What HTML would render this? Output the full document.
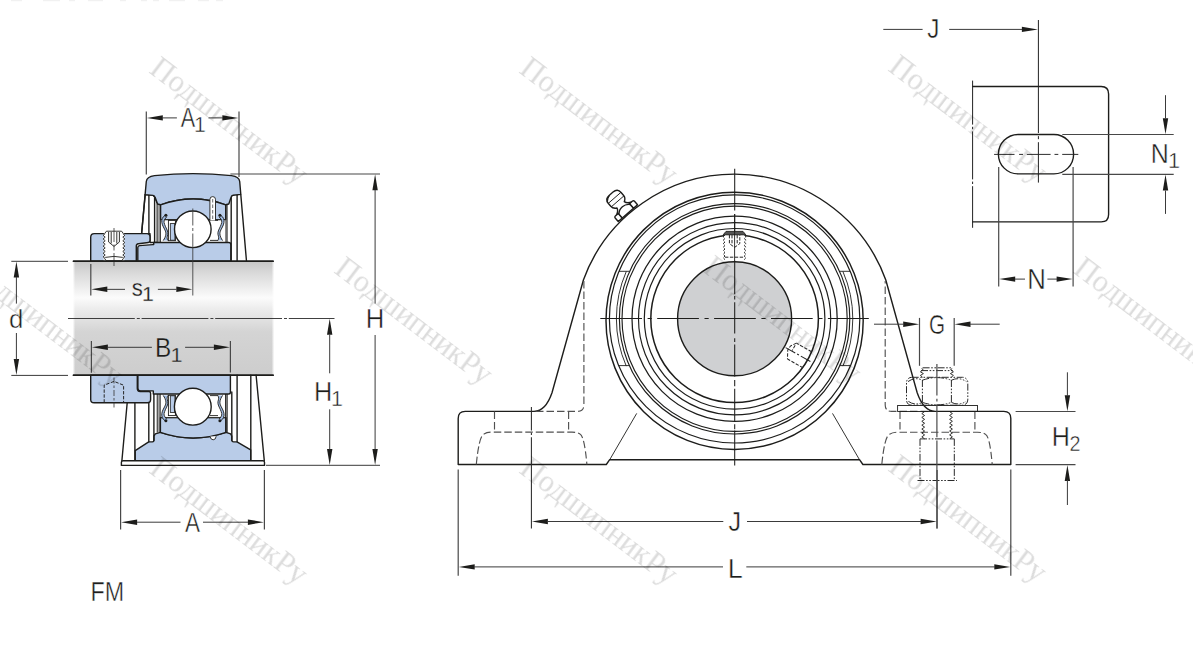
<!DOCTYPE html>
<html lang="ru">
<head>
<meta charset="utf-8">
<title>FM</title>
<style>
html,body{margin:0;padding:0;background:#fff;}
body{width:1193px;height:651px;overflow:hidden;font-family:"Liberation Sans",sans-serif;}
svg{display:block;}
.o{fill:none;stroke:#1d1d1b;stroke-width:1.4;stroke-linecap:round;stroke-linejoin:round;}
.ob{fill:#b9cce8;stroke:#1d1d1b;stroke-width:1.4;stroke-linejoin:round;}
.ow{fill:#fff;stroke:#1d1d1b;stroke-width:1.4;stroke-linejoin:round;}
.t{fill:none;stroke:#1d1d1b;stroke-width:0.9;stroke-linecap:butt;}
.tw{fill:#fff;stroke:#1d1d1b;stroke-width:0.9;}
.dm{fill:none;stroke:#3a3a3a;stroke-width:1;}
.ex{fill:none;stroke:#484848;stroke-width:1.2;}
.hd{fill:none;stroke:#505050;stroke-width:1.15;stroke-dasharray:7.5 3;}
.hs{fill:none;stroke:#262626;stroke-width:1;stroke-dasharray:3.4 1.5;}
.cl{fill:none;stroke:#2a2a2a;stroke-width:0.85;stroke-dasharray:17 2 2 2;}
.ph{fill:none;stroke:#2a2a2a;stroke-width:1;stroke-dasharray:7 1.6 1.6 1.6 1.6 1.6;}
.ah{fill:#1d1d1b;stroke:none;}
.lb{font-family:"Liberation Sans",sans-serif;fill:#1d1d1b;stroke:#fff;stroke-width:0.45;}
.lg{font-family:"Liberation Sans",sans-serif;fill:#1d1d1b;stroke:#d9d9d9;stroke-width:0.3;}
.wm{font-family:"Liberation Serif",serif;fill:#000;}
</style>
</head>
<body>
<svg width="1193" height="651" viewBox="0 0 1193 651">
<defs>
<linearGradient id="shaft" x1="0" y1="0" x2="0" y2="1">
<stop offset="0" stop-color="#c6c6c6"/>
<stop offset="0.10" stop-color="#d9d9d9"/>
<stop offset="0.32" stop-color="#fbfbfb"/>
<stop offset="0.42" stop-color="#ececec"/>
<stop offset="0.62" stop-color="#d4d4d4"/>
<stop offset="1" stop-color="#cdcdcd"/>
</linearGradient>
<linearGradient id="fadeL" x1="0" y1="0" x2="1" y2="0">
<stop offset="0" stop-color="#fff" stop-opacity="0.9"/>
<stop offset="1" stop-color="#fff" stop-opacity="0"/>
</linearGradient>
<linearGradient id="fadeR" x1="1" y1="0" x2="0" y2="0">
<stop offset="0" stop-color="#fff" stop-opacity="0.9"/>
<stop offset="1" stop-color="#fff" stop-opacity="0"/>
</linearGradient>
</defs>
<rect x="0" y="0" width="1193" height="651" fill="#ffffff"/>
<g id="leftview">
<rect x="73.4" y="261.3" width="200.1" height="114" fill="url(#shaft)"/>
<rect x="73.4" y="261.3" width="1.6" height="114" fill="url(#fadeL)"/>
<rect x="271.9" y="261.3" width="1.6" height="114" fill="url(#fadeR)"/>
<path class="ow" d="M145.2,194.6 L141.6,233.6 L150,233.6 L150,242.5 L161,242.5 L161,204.7 L157.5,204 L155,197.5 L153,195.3 Z" stroke="none"/>
<path d="M240.8,194.6 L246.5,261.3 L231,261.3 L231,242.5 L225.5,242.5 L225.5,204.7 L228.5,204 L231,197.5 L233,195.3 Z" fill="#fff"/>
<rect x="157" y="204.3" width="3.4" height="38" fill="#a6a6a6"/>
<rect x="225.4" y="204.8" width="1.7" height="37.6" fill="#9a9a9a"/>
<line class="o" x1="148.9" y1="195.2" x2="148.9" y2="233.6"/>
<line class="o" x1="154.6" y1="198" x2="154.6" y2="242.5"/>
<line class="t" x1="157" y1="204" x2="157" y2="242.5"/>
<line class="t" x1="160.4" y1="204.7" x2="160.4" y2="242.5"/>
<line class="o" x1="145.1" y1="194.6" x2="141.6" y2="233.6"/>
<line class="t" x1="225.4" y1="204.7" x2="225.4" y2="242.5"/>
<line class="t" x1="227.1" y1="204.7" x2="227.1" y2="242.5"/>
<line class="o" x1="231.2" y1="197" x2="231.2" y2="261.3"/>
<line class="o" x1="237.1" y1="195.2" x2="237.1" y2="261.3"/>
<line class="o" x1="240.8" y1="194.6" x2="246.5" y2="261.3"/>
<path class="ob" d="M145.1,194.6 L146.3,181.5 Q146.8,176.6 154.5,175.6 Q193,171.6 231.5,175.6 Q239.2,176.6 239.7,181.5 L240.8,194.4 L233.2,195.3 Q231.6,195.6 231,197.5 L228.8,204 L225.7,204.8 Q193,193.2 160.6,204.8 L157.6,204 L155.2,197.6 Q154.6,195.7 153,195.4 Z"/>
<path class="ob" d="M160.6,204.8 Q193,193.2 225.7,204.8 L225.7,219.6 L160.6,219.6 Z"/>
<rect x="160.9" y="219.8" width="64.5" height="22.4" fill="#fff"/>
<line class="t" x1="160.6" y1="219.8" x2="225.7" y2="219.8"/>
<path class="ob" d="M137.8,261.3 L137.8,247.6 Q137.8,245.8 139.6,245.6 L152.8,244.6 L153.7,244.6 L153.7,242.5 L228.8,242.5 Q230.8,242.5 230.8,244.5 L230.8,261.3 Z"/>
<path class="ob" d="M90.7,261.3 L90.7,237.2 Q90.7,233.6 94.3,233.6 L146.8,233.6 Q150,233.6 150,236.8 L150,240.6 Q150,242.3 148.4,242.5 L138.4,243.7 Q136.3,244 136.3,246 L136.3,261.3 Z"/>
<rect class="tw" x="168.4" y="220.4" width="7" height="20.3"/>
<rect x="170.3" y="223.6" width="4.6" height="16.6" fill="#b9cce8" stroke="#1d1d1b" stroke-width="0.8"/>
<line class="t" x1="210" y1="220.4" x2="218" y2="220.4"/>
<line class="t" x1="210" y1="240.4" x2="218" y2="240.4"/>
<path class="tw" d="M209.9,220.6 L209.9,199.4 Q209.9,196.6 212.7,196.6 Q215.5,196.6 215.5,199.4 L215.5,220.6"/>
<line x1="212.7" y1="199" x2="212.7" y2="220" stroke="#444" stroke-width="0.8" stroke-dasharray="3.5 2"/>
<circle class="ow" cx="192.8" cy="229.3" r="18.3"/>
<polygon points="165.6,214.8 163,216.6 161.5,220.4 162.2,224.8 164.6,229.2 166.3,233 165.2,237.4 163.2,240.6 168,240.6 166.8,238 168,234.3 167.7,231.1 165.5,226.7 163.8,222.3 164.4,219.4 166.7,216.8" fill="#9db8df" stroke="none"/><path class="t" stroke-width="1.25" d="M165.6,214.8 Q163,216.6 162.25,218.5 Q161.5,220.4 161.85,222.6 Q162.2,224.8 163.4,227 Q164.6,229.2 165.45,231.1 Q166.3,233 165.75,235.2 Q165.2,237.4 164.2,239 L163.2,240.6"/><path class="t" stroke-width="1.15" d="M166.7,216.8 Q164.4,219.4 164.1,220.85 Q163.8,222.3 164.65,224.5 Q165.5,226.7 166.6,228.9 Q167.7,231.1 167.85,232.7 Q168,234.3 167.4,236.15 Q166.8,238 167.4,239.3 L168,240.6"/><circle cx="165.9" cy="215.3" r="1.5" fill="#1d1d1b"/>
<polygon points="220.2,214.8 222.8,216.6 224.3,220.4 223.6,224.8 221.2,229.2 219.5,233 220.6,237.4 222.6,240.6 217.8,240.6 219,238 217.8,234.3 218.1,231.1 220.3,226.7 222,222.3 221.4,219.4 219.1,216.8" fill="#9db8df" stroke="none"/><path class="t" stroke-width="1.25" d="M220.2,214.8 Q222.8,216.6 223.55,218.5 Q224.3,220.4 223.95,222.6 Q223.6,224.8 222.4,227 Q221.2,229.2 220.35,231.1 Q219.5,233 220.05,235.2 Q220.6,237.4 221.6,239 L222.6,240.6"/><path class="t" stroke-width="1.15" d="M219.1,216.8 Q221.4,219.4 221.7,220.85 Q222,222.3 221.15,224.5 Q220.3,226.7 219.2,228.9 Q218.1,231.1 217.95,232.7 Q217.8,234.3 218.4,236.15 Q219,238 218.4,239.3 L217.8,240.6"/><circle cx="219.9" cy="215.3" r="1.5" fill="#1d1d1b"/>
<path d="M103.6,260.8 L103.6,234 L105.6,231.2 L122.4,231.2 L124.4,234 L124.4,260.8 Z" fill="#fff"/>
<polyline class="t" stroke-width="1.05" points="105.2,233.6 103.1,235.39 105.2,237.17 103.1,238.96 105.2,240.74 103.1,242.53 105.2,244.31 103.1,246.1 105.2,247.89 103.1,249.67 105.2,251.46 103.1,253.24 105.2,255.03 103.1,256.81 105.2,258.6"/>
<polyline class="t" stroke-width="1.05" points="122.8,233.6 124.9,235.39 122.8,237.17 124.9,238.96 122.8,240.74 124.9,242.53 122.8,244.31 124.9,246.1 122.8,247.89 124.9,249.67 122.8,251.46 124.9,253.24 122.8,255.03 124.9,256.81 122.8,258.6"/>
<path class="t" d="M104.6,233.6 L106.4,231.2 L121.6,231.2 L123.4,233.6"/>
<path class="t" d="M104.6,258.6 L106.4,260.8 L121.6,260.8 L123.4,258.6 M105.2,257.4 Q114,255.4 122.8,257.4"/>
<path class="t" d="M108.6,232 L108.6,242 L114,246.4 L119.4,242 L119.4,232 M111.2,232 L111.2,243.4 M116.8,232 L116.8,243.4" stroke-width="0.7"/>
<line x1="114" y1="228" x2="114" y2="266" stroke="#333" stroke-width="0.8" stroke-dasharray="14 2.5 6 2.5"/>
<line class="o" x1="73.4" y1="261.3" x2="273.2" y2="261.3"/>
<line class="o" x1="73.4" y1="375.3" x2="273.2" y2="375.3"/>
<path d="M127.2,402.8 L121.8,460.7 L264.4,460.7 L256.2,375.3 L230.4,375.3 L230.4,402.8 Z" fill="#fff"/>
<rect x="157.2" y="394" width="3" height="38.4" fill="#a6a6a6"/>
<rect x="225.5" y="394" width="1.7" height="38.4" fill="#9a9a9a"/>
<path class="ob" d="M135.2,460.7 L135.2,450.6 L148.7,441.9 L152.4,441.9 Q153.9,441.7 153.9,440.2 L153.9,436 L155.3,433.8 L160.4,432.3 Q193,443.6 226,432.3 L230.6,433.8 L231.8,436 L231.8,440.2 Q231.9,441.8 233.6,441.9 L237,441.9 L250.7,449.9 L250.7,460.7 Z"/>
<path class="ob" d="M160.4,417.6 L160.4,432.3 Q193,443.6 226,432.3 L226,417.6 Z"/>
<rect x="160.7" y="394.3" width="65" height="23.2" fill="#fff"/>
<line class="t" x1="160.4" y1="417.6" x2="226" y2="417.6"/>
<path class="tw" d="M210.2,436.6 Q210.6,439.8 213.2,439.8 Q215.8,439.8 216.2,436.2"/>
<line class="o" x1="127.2" y1="402.8" x2="121.9" y2="460.7"/>
<line class="o" x1="134.9" y1="402.8" x2="134.9" y2="460.7"/>
<line class="o" x1="148.8" y1="402.8" x2="148.8" y2="441.8"/>
<line class="o" x1="153.9" y1="394" x2="153.9" y2="440.6"/>
<line class="t" x1="157.2" y1="394" x2="157.2" y2="432.6"/>
<line class="t" x1="160.2" y1="394" x2="160.2" y2="432.3"/>
<line class="t" x1="225.5" y1="394" x2="225.5" y2="432.3"/>
<line class="t" x1="227.2" y1="394" x2="227.2" y2="432.6"/>
<line class="o" x1="231.8" y1="392" x2="231.8" y2="440.4"/>
<line class="o" x1="237.1" y1="375.3" x2="237.1" y2="441.8"/>
<line class="o" x1="250.8" y1="375.3" x2="250.8" y2="460.7"/>
<line class="o" x1="256.1" y1="375.3" x2="264.3" y2="460.7"/>
<path class="ob" d="M137.9,375.3 L137.9,388.2 Q137.9,390.9 140.6,390.9 L153.3,390.9 L153.3,394 L228.6,394 Q230.4,394 230.4,392.2 L230.4,375.3 Z"/>
<path class="ob" d="M90.7,375.3 L90.7,399.4 Q90.7,402.8 94.1,402.8 L147.4,402.8 Q150.6,402.8 150.6,399.6 L150.6,393.2 Q150.6,391.5 148.9,391.5 L140.2,391.5 Q137.3,391.5 137.3,388.6 L137.3,375.3 Z"/>
<path class="hs" stroke-width="1.1" stroke-dasharray="4.6 1.8" d="M104.2,402.6 L104.2,385.2 L114,381.4 L123.6,385.2 L123.6,402.6"/>
<line x1="114" y1="377.5" x2="114" y2="407.5" stroke="#333" stroke-width="0.8" stroke-dasharray="6 2 2.5 2"/>
<rect class="tw" x="168.4" y="395.3" width="7" height="20.3"/>
<rect x="170.3" y="395.8" width="4.6" height="16.6" fill="#b9cce8" stroke="#1d1d1b" stroke-width="0.8"/>
<line class="t" x1="210" y1="395.6" x2="218" y2="395.6"/>
<line class="t" x1="210" y1="415.6" x2="218" y2="415.6"/>
<circle class="ow" cx="192.8" cy="406.7" r="18.4"/>
<polygon points="165.6,421.2 163,419.4 161.5,415.6 162.2,411.2 164.6,406.8 166.3,403 165.2,398.6 163.2,395.4 168,395.4 166.8,398 168,401.7 167.7,404.9 165.5,409.3 163.8,413.7 164.4,416.6 166.7,419.2" fill="#9db8df" stroke="none"/><path class="t" stroke-width="1.25" d="M165.6,421.2 Q163,419.4 162.25,417.5 Q161.5,415.6 161.85,413.4 Q162.2,411.2 163.4,409 Q164.6,406.8 165.45,404.9 Q166.3,403 165.75,400.8 Q165.2,398.6 164.2,397 L163.2,395.4"/><path class="t" stroke-width="1.15" d="M166.7,419.2 Q164.4,416.6 164.1,415.15 Q163.8,413.7 164.65,411.5 Q165.5,409.3 166.6,407.1 Q167.7,404.9 167.85,403.3 Q168,401.7 167.4,399.85 Q166.8,398 167.4,396.7 L168,395.4"/><circle cx="165.9" cy="420.7" r="1.5" fill="#1d1d1b"/>
<polygon points="220.2,421.2 222.8,419.4 224.3,415.6 223.6,411.2 221.2,406.8 219.5,403 220.6,398.6 222.6,395.4 217.8,395.4 219,398 217.8,401.7 218.1,404.9 220.3,409.3 222,413.7 221.4,416.6 219.1,419.2" fill="#9db8df" stroke="none"/><path class="t" stroke-width="1.25" d="M220.2,421.2 Q222.8,419.4 223.55,417.5 Q224.3,415.6 223.95,413.4 Q223.6,411.2 222.4,409 Q221.2,406.8 220.35,404.9 Q219.5,403 220.05,400.8 Q220.6,398.6 221.6,397 L222.6,395.4"/><path class="t" stroke-width="1.15" d="M219.1,419.2 Q221.4,416.6 221.7,415.15 Q222,413.7 221.15,411.5 Q220.3,409.3 219.2,407.1 Q218.1,404.9 217.95,403.3 Q217.8,401.7 218.4,399.85 Q219,398 218.4,396.7 L217.8,395.4"/><circle cx="219.9" cy="420.7" r="1.5" fill="#1d1d1b"/>
<path class="ow" d="M121.4,462.2 Q121.4,460.7 123,460.7 L263,460.7 Q264.5,460.7 264.5,462.2 L264.5,465.4 L121.4,465.4 Z"/>
<line class="o" x1="73.4" y1="375.3" x2="273.2" y2="375.3"/>
<line class="o" x1="73.4" y1="261.3" x2="273.2" y2="261.3"/>
<line x1="68" y1="318.5" x2="334.5" y2="318.5" stroke="#2a2a2a" stroke-width="0.9" stroke-dasharray="66.8 2 3 1.8"/>
<line x1="192.8" y1="208.5" x2="192.8" y2="295.5" stroke="#3a3a3a" stroke-width="0.85" stroke-dasharray="17 2.5 3 2.5 70"/>
<line class="ex" x1="146.3" y1="111.5" x2="146.3" y2="174.6"/>
<line class="ex" x1="239" y1="111.5" x2="239" y2="177"/>
<polygon class="ah" points="146.8,117.9 162.8,115.2 162.8,120.6"/>
<polygon class="ah" points="238.4,117.9 222.4,115.2 222.4,120.6"/>
<line class="dm" x1="162" y1="117.9" x2="176.9" y2="117.9"/>
<line class="dm" x1="208.4" y1="117.9" x2="223" y2="117.9"/>
<text class="lb" transform="translate(180.65 126.8) scale(0.7689 1)" font-size="28.07">A</text>
<text class="lb" transform="translate(194.1 131.9) scale(1.0017 1)" font-size="21.24">1</text>
<line class="ex" x1="230.4" y1="174" x2="380" y2="174"/>
<line class="dm" x1="266" y1="465.3" x2="380" y2="465.3"/>
<polygon class="ah" points="375.1,174.3 372.4,190.3 377.8,190.3"/>
<polygon class="ah" points="375.1,465 372.4,449 377.8,449"/>
<line class="dm" x1="375.1" y1="190" x2="375.1" y2="303.6"/>
<line class="dm" x1="375.1" y1="335" x2="375.1" y2="449.5"/>
<text class="lb" transform="translate(365.78 327.9) scale(0.9209 1)" font-size="27.85">H</text>
<polygon class="ah" points="329.7,318.8 327,334.8 332.4,334.8"/>
<polygon class="ah" points="329.7,465 327,449 332.4,449"/>
<line class="dm" x1="329.7" y1="334.5" x2="329.7" y2="373.3"/>
<line class="dm" x1="329.7" y1="409.3" x2="329.7" y2="449.5"/>
<text class="lb" transform="translate(313.91 400.75) scale(0.9080 1)" font-size="27.85">H</text>
<text class="lb" transform="translate(330.89 405.8) scale(0.9989 1)" font-size="21.53">1</text>
<line class="dm" x1="11.3" y1="261.3" x2="68" y2="261.3"/>
<line class="dm" x1="11.3" y1="375.4" x2="68" y2="375.4"/>
<polygon class="ah" points="16.4,261.6 13.7,277.6 19.1,277.6"/>
<polygon class="ah" points="16.4,375.1 13.7,359.1 19.1,359.1"/>
<line class="dm" x1="16.4" y1="277" x2="16.4" y2="303.6"/>
<line class="dm" x1="16.4" y1="333" x2="16.4" y2="359.5"/>
<text class="lb" transform="translate(9.1 327.54) scale(0.9972 1)" font-size="25.85">d</text>
<line class="ex" x1="90.8" y1="264" x2="90.8" y2="295.5"/>
<polygon class="ah" points="91.3,289.3 107.3,286.6 107.3,292"/>
<polygon class="ah" points="192.3,289.3 176.3,286.6 176.3,292"/>
<line class="dm" x1="107" y1="289.35" x2="125" y2="289.35"/>
<line class="dm" x1="157.9" y1="289.35" x2="176.5" y2="289.35"/>
<text class="lg" transform="translate(131.64 295.71) scale(0.9059 1)" font-size="24.47">s</text>
<text class="lg" transform="translate(142.05 300.6) scale(1.0121 1)" font-size="21.02">1</text>
<line class="ex" x1="91.4" y1="341" x2="91.4" y2="372.7"/>
<line class="ex" x1="230.4" y1="341" x2="230.4" y2="372.5"/>
<polygon class="ah" points="91.9,347.3 107.9,344.6 107.9,350"/>
<polygon class="ah" points="229.9,347.3 213.9,344.6 213.9,350"/>
<line class="dm" x1="107.5" y1="347.3" x2="151.9" y2="347.3"/>
<line class="dm" x1="185.1" y1="347.3" x2="214" y2="347.3"/>
<text class="lg" transform="translate(155.04 356.75) scale(0.8928 1)" font-size="27.35">B</text>
<text class="lg" transform="translate(170.62 361.65) scale(1.0377 1)" font-size="20.95">1</text>
<line class="ex" x1="120.6" y1="470" x2="120.6" y2="529.6"/>
<line class="ex" x1="264.4" y1="470" x2="264.4" y2="529.6"/>
<polygon class="ah" points="121.1,522.2 137.1,519.5 137.1,524.9"/>
<polygon class="ah" points="263.9,522.2 247.9,519.5 247.9,524.9"/>
<line class="dm" x1="137" y1="522.2" x2="180.5" y2="522.2"/>
<line class="dm" x1="203" y1="522.2" x2="248" y2="522.2"/>
<text class="lb" transform="translate(184.94 531.9) scale(0.7889 1)" font-size="28.51">A</text>
<text class="lb" transform="translate(90.48 601) scale(0.8396 1)" font-size="27.78">FM</text>
</g>
<g id="frontview">
<circle cx="734.6" cy="318.8" r="57" fill="#cfd0d2" stroke="#1d1d1b" stroke-width="1.4"/>
<circle cx="734.6" cy="320.8" r="128.6" fill="none" stroke="#1d1d1b" stroke-width="1.45"/>
<ellipse cx="734.6" cy="318.9" rx="125.2" ry="124.1" fill="none" stroke="#1d1d1b" stroke-width="1.2"/>
<circle cx="734.6" cy="318.8" r="115.2" fill="none" stroke="#1d1d1b" stroke-width="1.15"/>
<circle cx="734.6" cy="318.8" r="112.6" fill="none" stroke="#1d1d1b" stroke-width="1.15"/>
<circle cx="734.6" cy="318.8" r="102.6" fill="none" stroke="#1d1d1b" stroke-width="1.25"/>
<circle cx="734.6" cy="318.8" r="96.1" fill="none" stroke="#1d1d1b" stroke-width="1.15"/>
<circle cx="734.6" cy="318.8" r="90.3" fill="none" stroke="#1d1d1b" stroke-width="1.2"/>
<circle cx="734.6" cy="318.8" r="83.8" fill="none" stroke="#1d1d1b" stroke-width="1.5"/>
<path class="t" stroke-width="1" d="M626.28,366.1 A118.2,118.2 0 0 1 626.28,271.5"/>
<path class="t" stroke-width="1" d="M842.92,271.5 A118.2,118.2 0 0 1 842.92,366.1"/>
<line class="t" x1="619" y1="271.3" x2="629.4" y2="271.3"/>
<line class="t" x1="618.6" y1="365.6" x2="629.2" y2="365.6"/>
<line class="t" x1="850.2" y1="271.3" x2="839.8" y2="271.3"/>
<line class="t" x1="850.6" y1="365.6" x2="840" y2="365.6"/>
<path class="o" stroke-width="1.5" d="M458.2,464.5 L458.2,418.4 Q458.2,411.4 465.2,411.4 L534,411.4 Q545.6,411.4 552,392.8 L583.4,280 A160.9,160.9 0 0 1 885.8,280 L917.2,392.8 Q923.6,411.4 935.2,411.4 L1003.8,411.4 Q1010.8,411.4 1010.8,418.4 L1010.8,464.5 L862.9,464.5 L859.5,459.7 L609.7,459.7 L606.3,464.5 Z"/>
<line class="t" x1="609.9" y1="459.4" x2="636.7" y2="413.4"/>
<line class="t" x1="859.3" y1="459.4" x2="832.5" y2="413.4"/>
<line class="hd" x1="494.5" y1="411.4" x2="494.5" y2="432.1"/>
<line class="hd" x1="568.6" y1="411.4" x2="568.6" y2="432.1"/>
<path class="hd" d="M476.3,464.5 Q479,436 484,434 Q487,432.1 492,432.1 L572,432.1 Q577,432.1 580,434 Q584.4,436 586.9,464.5"/>
<path class="hd" d="M536,411.4 L577.5,411.4 Q583.9,411.4 583.9,405 L583.9,281"/>
<line class="hd" x1="900" y1="411.4" x2="900" y2="432.2"/>
<line class="hd" x1="974.9" y1="411.4" x2="974.9" y2="432.2"/>
<path class="hd" d="M881.8,464.5 Q884.6,436 889.6,434.2 Q892.6,432.2 897.6,432.2 L977.4,432.2 Q982.4,432.2 985.4,434.2 Q989.8,436 992.2,464.5"/>
<path class="hd" d="M928,411.4 L891.6,411.4 Q885.2,411.4 885.2,405 L885.2,281"/>
<rect class="t" x="897.6" y="405.5" width="79.9" height="6"/>
<rect class="ph" x="906.5" y="377.3" width="61.3" height="27.9" rx="5.2" ry="5.2"/>
<path class="ph" d="M922.4,380 L922.4,402.6 M951.4,380 L951.4,402.6"/>
<path class="ph" stroke-dasharray="4 1.4 1.4 1.4" d="M922.4,380.2 Q937,375 951.4,380.2 M922.4,402.4 Q937,407.4 951.4,402.4 M908,381.6 Q915,376.6 922.4,380.2 M951.4,380.2 Q959,376.6 966.4,381.6 M908.4,401.4 Q915,406 922.4,402.4 M951.4,402.4 Q959,406 966,401.4"/>
<path class="t" stroke-width="1" d="M922.6,377.3 L920.4,375.4 L923.4,373.6 L920.4,371.8 L923.2,369.6 L921.6,368.6 M951.2,377.3 L953.4,375.4 L950.4,373.6 L953.4,371.8 L950.6,369.6 L952.2,368.6"/>
<path class="ph" stroke-dasharray="8 1.6 1.6 1.6" d="M922.6,367.8 L951.2,367.8 M921,370.6 L952.8,370.6"/>
<polyline class="t" points="924.6,411.6 921.8,413.54 924.6,415.49 921.8,417.43 924.6,419.37 921.8,421.31 924.6,423.26 921.8,425.2 924.6,427.14 921.8,429.09 924.6,431.03 921.8,432.97 924.6,434.91 921.8,436.86 924.6,438.8"/>
<polyline class="t" points="949.6,411.6 952.4,413.54 949.6,415.49 952.4,417.43 949.6,419.37 952.4,421.31 949.6,423.26 952.4,425.2 949.6,427.14 952.4,429.09 949.6,431.03 952.4,432.97 949.6,434.91 952.4,436.86 949.6,438.8"/>
<path class="ph" d="M920,438.9 L954.3,438.9 M920,438.9 L920,480.5 M954.3,438.9 L954.3,480.5 M917.5,480.5 L957,480.5"/>
<line x1="600.3" y1="318.5" x2="868.8" y2="318.5" stroke="#1d1d1b" stroke-width="1.05" stroke-dasharray="41.7 5.6 4.2 5.4"/>
<line x1="734.7" y1="168.7" x2="734.7" y2="210.5" stroke="#1d1d1b" stroke-width="1.05"/>
<line x1="734.7" y1="214" x2="734.7" y2="294.2" stroke="#1d1d1b" stroke-width="1.05"/>
<line x1="734.7" y1="295.9" x2="734.7" y2="299.4" stroke="#1d1d1b" stroke-width="1.05"/>
<line x1="734.7" y1="302.2" x2="734.7" y2="333.4" stroke="#1d1d1b" stroke-width="1.05"/>
<line x1="734.7" y1="338.3" x2="734.7" y2="342" stroke="#1d1d1b" stroke-width="1.05"/>
<line x1="734.7" y1="344.5" x2="734.7" y2="376.4" stroke="#1d1d1b" stroke-width="1.05"/>
<line x1="734.7" y1="380" x2="734.7" y2="386.3" stroke="#1d1d1b" stroke-width="1.05"/>
<line x1="734.7" y1="388.7" x2="734.7" y2="421.9" stroke="#1d1d1b" stroke-width="1.05"/>
<line x1="734.7" y1="424.3" x2="734.7" y2="429.2" stroke="#1d1d1b" stroke-width="1.05"/>
<line x1="734.7" y1="430.5" x2="734.7" y2="465.4" stroke="#1d1d1b" stroke-width="1.05"/>
<line x1="531.4" y1="407" x2="531.4" y2="528.4" stroke="#2a2a2a" stroke-width="1.05" stroke-dasharray="23.6 2.2 2.2 2.2 100"/>
<line x1="936.9" y1="364" x2="936.9" y2="395.5" stroke="#4a4a4a" stroke-width="1.2"/>
<line x1="936.9" y1="398.8" x2="936.9" y2="401.4" stroke="#4a4a4a" stroke-width="1.2"/>
<line x1="936.9" y1="404.6" x2="936.9" y2="437.2" stroke="#4a4a4a" stroke-width="1.2"/>
<line x1="936.9" y1="440.4" x2="936.9" y2="528.4" stroke="#4a4a4a" stroke-width="1.2"/>
<rect x="724" y="234.6" width="21" height="26" fill="#fff"/>
<path d="M723.2,234.8 L726,231.4 L743,231.4 L745.8,234.8 Z" fill="#555" stroke="#1d1d1b" stroke-width="0.9"/>
<polyline class="hs" stroke-width="1.1" stroke-dasharray="2.6 1" points="725,235 723.1,236.76 725,238.51 723.1,240.27 725,242.03 723.1,243.79 725,245.54 723.1,247.3 725,249.06 723.1,250.81 725,252.57 723.1,254.33 725,256.09 723.1,257.84 725,259.6"/>
<polyline class="hs" stroke-width="1.1" stroke-dasharray="2.6 1" points="744.2,235 746.1,236.76 744.2,238.51 746.1,240.27 744.2,242.03 746.1,243.79 744.2,245.54 746.1,247.3 744.2,249.06 746.1,250.81 744.2,252.57 746.1,254.33 744.2,256.09 746.1,257.84 744.2,259.6"/>
<path class="hs" d="M725,257.2 L744,257.2"/>
<path class="hs" stroke-width="0.7" d="M729.4,235 L729.4,243.6 L734.6,247.4 L739.8,243.6 L739.8,235 M732,235 L732,244.8 M737.2,235 L737.2,244.8"/>
<line class="t" x1="734.6" y1="214" x2="734.6" y2="262"/>
<g transform="translate(734.6 318.8) rotate(29.4)">
<path class="hs" stroke-width="1.1" stroke-dasharray="5.2 2" d="M83.2,-9.1 L65.8,-9.1 M83.6,9.1 L65.8,9.1"/>
<path class="hs" stroke-width="1.1" stroke-dasharray="4 1.6" d="M65.8,-9.1 L62,-3.6 L61.6,1 L65.8,9.1 M65.8,-6.6 L65.8,-0.6"/>
<line x1="58.6" y1="0" x2="88.5" y2="0" stroke="#222" stroke-width="1" stroke-dasharray="11 2.2 2 2.2"/>
</g>
<g transform="translate(627.6 212.8) rotate(-41)">
<path class="ow" stroke-width="1.15" d="M-10.2,-5.4 Q-5.6,-7.4 -4.8,-10.6 Q-8.4,-12.4 -8.4,-16 L-8.4,-19.6 Q-8.4,-25.2 -2.6,-25.2 L2.6,-25.2 Q8.4,-25.2 8.4,-19.6 L8.4,-16 Q8.4,-12.4 4.8,-10.6 Q5.6,-7.4 10.2,-5.4 Z"/>
<path class="t" stroke-width="1" d="M-8.3,-15.2 L8.3,-15.2 M-8.3,-19.8 L8.3,-19.8"/>
<path d="M-8,-21.6 Q-7,-24.8 -2.4,-25 Q-5.6,-23.8 -8,-21.6 Z" fill="#1d1d1b" stroke="#1d1d1b" stroke-width="0.8"/>
<path class="ow" stroke-width="1.15" d="M-12.8,0.4 L-12.8,-4.2 Q-12.8,-5.6 -11.4,-5.6 L-8.6,-5.6 Q-7.4,-5.6 -7.4,-4.4 L-7.4,0.4 Z"/>
<path class="ow" stroke-width="1.15" d="M12.8,0.4 L12.8,-4.2 Q12.8,-5.6 11.4,-5.6 L8.6,-5.6 Q7.4,-5.6 7.4,-4.4 L7.4,0.4 Z"/>
<path class="ow" stroke-width="1.15" d="M-7.4,0.4 L-7.4,-4.6 Q-4.6,-8 0,-8 Q4.6,-8 7.4,-4.6 L7.4,0.4 Z"/>
<path class="t" stroke-width="1.8" stroke-dasharray="0.9 0.9" d="M-12.8,1 L12.8,1"/>
</g>
<line class="ex" x1="919.5" y1="317.9" x2="919.5" y2="365.8"/>
<line class="ex" x1="954.2" y1="317.9" x2="954.2" y2="365.8"/>
<polygon class="ah" points="919.2,324.2 903.2,321.5 903.2,326.9"/>
<polygon class="ah" points="954.5,324.2 970.5,321.5 970.5,326.9"/>
<line class="dm" x1="874" y1="324.2" x2="904" y2="324.2"/>
<line class="dm" x1="969.5" y1="324.2" x2="999.7" y2="324.2"/>
<text class="lb" transform="translate(929.12 333.82) scale(0.7403 1)" font-size="27.84">G</text>
<line class="ex" x1="1015.6" y1="411.5" x2="1075.5" y2="411.5"/>
<line class="ex" x1="1015.6" y1="464.6" x2="1075.5" y2="464.6"/>
<polygon class="ah" points="1067.4,411.2 1064.7,395.2 1070.1,395.2"/>
<polygon class="ah" points="1067.4,464.9 1064.7,480.9 1070.1,480.9"/>
<line class="dm" x1="1067.4" y1="372.3" x2="1067.4" y2="396"/>
<line class="dm" x1="1067.4" y1="480" x2="1067.4" y2="505"/>
<text class="lb" transform="translate(1051.73 445.9) scale(0.9015 1)" font-size="27.85">H</text>
<text class="lb" transform="translate(1069.61 450.9) scale(0.9322 1)" font-size="21.22">2</text>
<line class="ex" x1="937.1" y1="470" x2="937.1" y2="528.4"/>
<polygon class="ah" points="531.9,521.5 547.9,518.8 547.9,524.2"/>
<polygon class="ah" points="936.6,521.5 920.6,518.8 920.6,524.2"/>
<line class="dm" x1="547.5" y1="521.5" x2="723.3" y2="521.5"/>
<line class="dm" x1="747" y1="521.5" x2="921" y2="521.5"/>
<text class="lb" transform="translate(728.42 530.82) scale(0.8981 1)" font-size="28.24">J</text>
<line class="ex" x1="458.2" y1="469.5" x2="458.2" y2="575.7"/>
<line class="ex" x1="1010.8" y1="469.5" x2="1010.8" y2="575.7"/>
<polygon class="ah" points="458.7,566.9 474.7,564.2 474.7,569.6"/>
<polygon class="ah" points="1010.3,566.9 994.3,564.2 994.3,569.6"/>
<line class="dm" x1="474" y1="566.9" x2="723" y2="566.9"/>
<line class="dm" x1="746.3" y1="566.9" x2="995" y2="566.9"/>
<text class="lb" transform="translate(727.67 577.8) scale(0.9584 1)" font-size="28.22">L</text>
</g>
<g id="detail">
<path class="o" stroke-width="1.5" d="M972.6,86.5 L1101.2,86.5 Q1108.6,86.5 1108.6,93.9 L1108.6,214.5 Q1108.6,221.9 1101.2,221.9 L972.6,221.9"/>
<line x1="972.6" y1="80.6" x2="972.6" y2="227.8" stroke="#222" stroke-width="1" stroke-dasharray="44 2.2 2.4 2.2 48 2.2 2.4 2.2 60"/>
<rect class="o" stroke-width="1.5" x="998.4" y="134.5" width="75.2" height="39.4" rx="19.7" ry="19.7"/>
<line x1="994.1" y1="154.4" x2="1078.3" y2="154.4" stroke="#222" stroke-width="0.95" stroke-dasharray="20.4 4.6 3.9 3.8 23.8 3.9 3.8 3.9 16.1"/>
<line x1="1038.4" y1="20" x2="1038.4" y2="182.6" stroke="#222" stroke-width="1" stroke-dasharray="113 3.1 3.1 3 40.4"/>
<line class="dm" x1="883.3" y1="29.4" x2="922.6" y2="29.4"/>
<line class="dm" x1="949.2" y1="29.4" x2="1022" y2="29.4"/>
<polygon class="ah" points="1037.9,29.4 1021.9,26.7 1021.9,32.1"/>
<text class="lb" transform="translate(927.13 37.71) scale(0.8549 1)" font-size="28.53">J</text>
<line class="ex" x1="1062.3" y1="134.5" x2="1173.7" y2="134.5"/>
<line class="ex" x1="1062.3" y1="174.3" x2="1173.7" y2="174.3"/>
<polygon class="ah" points="1165.5,134.2 1162.8,118.2 1168.2,118.2"/>
<polygon class="ah" points="1165.5,174.6 1162.8,190.6 1168.2,190.6"/>
<line class="dm" x1="1165.5" y1="95.2" x2="1165.5" y2="118.5"/>
<line class="dm" x1="1165.5" y1="190.5" x2="1165.5" y2="213.9"/>
<text class="lb" transform="translate(1150.84 163.1) scale(0.8746 1)" font-size="28.51">N</text>
<text class="lb" transform="translate(1167.97 167.9) scale(1.0234 1)" font-size="21.24">1</text>
<line class="ex" x1="998.7" y1="167" x2="998.7" y2="286.5"/>
<line class="ex" x1="1073.1" y1="167" x2="1073.1" y2="286.5"/>
<polygon class="ah" points="999.2,279.1 1015.2,276.4 1015.2,281.8"/>
<polygon class="ah" points="1072.6,279.1 1056.6,276.4 1056.6,281.8"/>
<line class="dm" x1="1014.8" y1="279.1" x2="1025" y2="279.1"/>
<line class="dm" x1="1047.4" y1="279.1" x2="1057.3" y2="279.1"/>
<text class="lb" transform="translate(1027.13 289.1) scale(0.8983 1)" font-size="28.65">N</text>
</g>
<g id="wm" opacity="0.14">
<text class="wm" font-size="30.6" transform="translate(148 72) rotate(37.2)">ПодшипникРу</text>
<text class="wm" font-size="30.6" transform="translate(518 72) rotate(37.2)">ПодшипникРу</text>
<text class="wm" font-size="30.6" transform="translate(887 70) rotate(37.2)">ПодшипникРу</text>
<text class="wm" font-size="30.6" transform="translate(-36.6 273.4) rotate(37.2)">ПодшипникРу</text>
<text class="wm" font-size="30.6" transform="translate(333 272) rotate(37.2)">ПодшипникРу</text>
<text class="wm" font-size="30.6" transform="translate(701.6 270.8) rotate(37.2)">ПодшипникРу</text>
<text class="wm" font-size="30.6" transform="translate(1072 272) rotate(37.2)">ПодшипникРу</text>
<text class="wm" font-size="30.6" transform="translate(148 472) rotate(37.2)">ПодшипникРу</text>
<text class="wm" font-size="30.6" transform="translate(518 472) rotate(37.2)">ПодшипникРу</text>
<text class="wm" font-size="30.6" transform="translate(887 470) rotate(37.2)">ПодшипникРу</text>
</g>
<g id="toptext" fill="#f1f1f1">
<rect x="11" y="0" width="11" height="1.2"/>
<rect x="43" y="0" width="17" height="1.2"/>
<rect x="69" y="0" width="6" height="1.2"/>
<rect x="88" y="0" width="15" height="1.2"/>
<rect x="120" y="0" width="6" height="1.2"/>
<rect x="141" y="0" width="6" height="1.2"/>
<rect x="153" y="0" width="6" height="1.2"/>
<rect x="169" y="0" width="16" height="1.2"/>
<rect x="198" y="0" width="11" height="1.2"/>
<rect x="216" y="0" width="7" height="1.2"/>
</g>
</svg>
</body>
</html>
